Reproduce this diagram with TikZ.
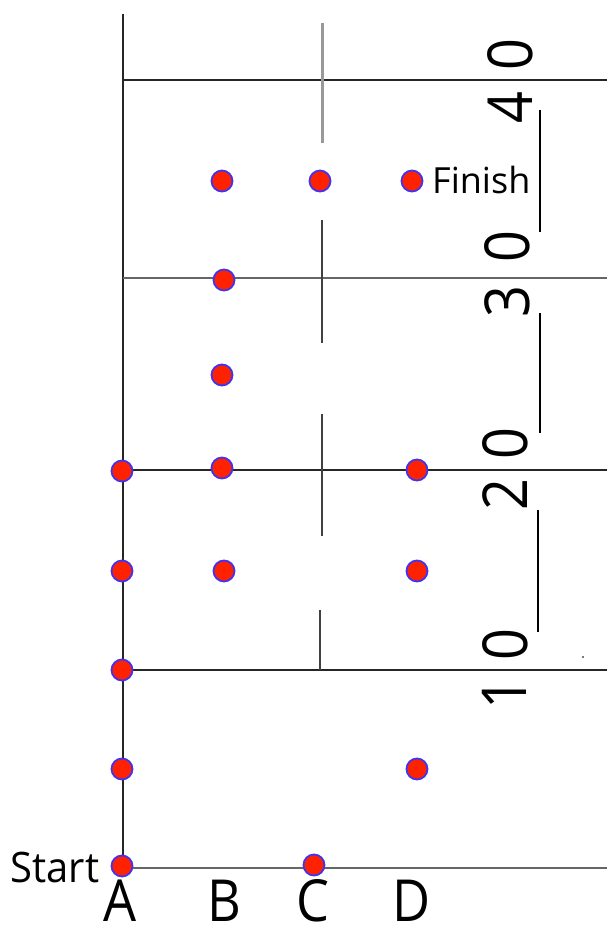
\documentclass[tikz,border=0pt]{standalone}
\usepackage{fontspec}
\setmainfont{Open Sans}
\definecolor{dotred}{HTML}{FF2200}
\definecolor{dotblue}{HTML}{4433EE}
\begin{document}
\begin{tikzpicture}[x=1pt,y=-1pt,
  grid/.style={line width=2pt, draw=black!85},
  gridg/.style={line width=2pt, draw=black!60},
  cseg/.style={line width=2.5pt, draw=black!75},
  cgray/.style={line width=3pt, draw=black!40},
  uline/.style={line width=1.6pt, draw=black},
  dot/.style={circle, fill=dotred, draw=dotblue, line width=1.8pt, minimum size=21pt, inner sep=0pt},
  digit/.style={rotate=90, inner sep=0pt, font=\fontsize{62}{62}\selectfont},
  col/.style={inner sep=0pt, anchor=base, font=\fontsize{58}{58}\selectfont},
  lbl/.style={inner sep=0pt, anchor=base},
]
\fill[white] (0,0) rectangle (607,927);
\useasboundingbox (0,0) rectangle (607,927);
% grid coordinates
\coordinate (Atop) at (123,14);
\coordinate (Abot) at (123,868);
\coordinate (h40l) at (123,80);  \coordinate (h40r) at (607,80);
\coordinate (h30l) at (123,278); \coordinate (h30r) at (607,278);
\coordinate (h20l) at (123,470); \coordinate (h20r) at (607,470);
\coordinate (h10l) at (123,670); \coordinate (h10r) at (607,670);
\coordinate (h0l)  at (123,868); \coordinate (h0r)  at (607,868);
\coordinate (c1a) at (322,23);  \coordinate (c1b) at (322,143);
\coordinate (c2a) at (322,220); \coordinate (c2b) at (322,343);
\coordinate (c3a) at (322,414); \coordinate (c3b) at (322,536);
\coordinate (c4a) at (320,610); \coordinate (c4b) at (320,670);
\coordinate (u1a) at (540,110); \coordinate (u1b) at (540,232);
\coordinate (u2a) at (540,313); \coordinate (u2b) at (540,433);
\coordinate (u3a) at (538,510); \coordinate (u3b) at (538,632);
% lines
\draw[grid] (Atop) -- (Abot);
\draw[grid] (h40l) -- (h40r);
\draw[gridg] (h30l) -- (h30r);
\draw[grid] (h20l) -- (h20r);
\draw[grid] (h10l) -- (h10r);
\draw[gridg] (h0l) -- (h0r);
\draw[cgray] (c1a) -- (c1b);
\draw[cseg] (c2a) -- (c2b);
\draw[cseg] (c3a) -- (c3b);
\draw[cseg] (c4a) -- (c4b);
\draw[uline] (u1a) -- (u1b);
\draw[uline] (u2a) -- (u2b);
\draw[uline] (u3a) -- (u3b);
\fill[black!70] (583,657) circle (1.2pt);
% scale digits
\node[digit] (n40a) at (510,108) {\scalebox{0.9}[1]{4}};
\node[digit] (n40b) at (510,55) {\scalebox{0.9}[1]{0}};
\node[digit] (n30a) at (507,302) {\scalebox{0.9}[1]{3}};
\node[digit] (n30b) at (507,247) {\scalebox{0.9}[1]{0}};
\node[digit] (n20a) at (505,495) {\scalebox{0.9}[1]{2}};
\node[digit] (n20b) at (505,444) {\scalebox{0.9}[1]{0}};
\node[digit] (n10a) at (504,694) {\scalebox{0.9}[1]{1}};
\node[digit] (n10b) at (505,645) {\scalebox{0.9}[1]{0}};
% dots
\node[dot] (d1) at (222,181) {};
\node[dot] (d2) at (320,181) {};
\node[dot] (d3) at (412,181) {};
\node[dot] (d4) at (224,280) {};
\node[dot] (d5) at (222,375) {};
\node[dot] (d6) at (122,471) {};
\node[dot] (d7) at (222,468) {};
\node[dot] (d8) at (417,470) {};
\node[dot] (d9) at (122,571) {};
\node[dot] (d10) at (224,571) {};
\node[dot] (d11) at (417,571) {};
\node[dot] (d12) at (122,670) {};
\node[dot] (d13) at (122,769) {};
\node[dot] (d14) at (417,769) {};
\node[dot] (d15) at (122,866) {};
\node[dot] (d16) at (314,865) {};
% labels
\node[lbl, font=\fontsize{42}{42}\selectfont] (start) at (55,882) {\scalebox{0.95}[1]{Start}};
\node[lbl, anchor=base west, font=\fontsize{36}{36}\selectfont] (finish) at (432,193) {Finish};
\node[col] (cA) at (120,921) {\scalebox{0.9}[1]{A}};
\node[col] (cB) at (224,921) {\scalebox{0.9}[1]{B}};
\node[col] (cC) at (313,921) {\scalebox{0.9}[1]{C}};
\node[col] (cD) at (412,921) {\scalebox{0.9}[1]{D}};
\end{tikzpicture}
\end{document}
